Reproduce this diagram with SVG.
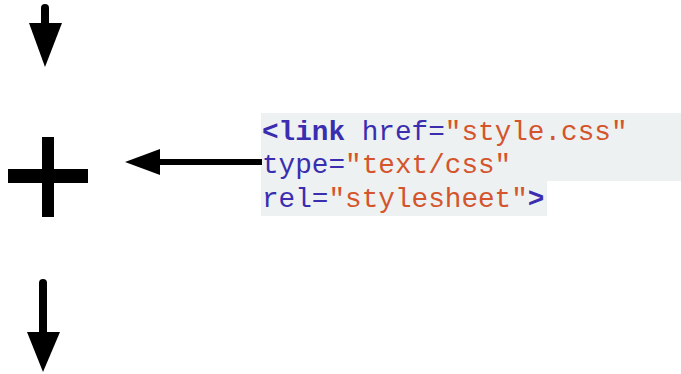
<svg xmlns="http://www.w3.org/2000/svg" width="681" height="374" viewBox="0 0 681 374">
<style>
.code{font-family:"Liberation Mono","Courier New",monospace;font-size:27.7px}
.tag{fill:#3a2db0}
.str{fill:#d4552c}
.blk{fill:#000}
</style>
<rect width="681" height="374" fill="#fff"/>
<g id="code">
<path d="M261 113H681V181H547V216H261Z" fill="#eef1f2"/>
<text class="code" x="262" y="139.5"><tspan class="tag" font-weight="bold">&lt;link</tspan><tspan class="tag"> href=</tspan><tspan class="str">"style.css"</tspan></text>
<text class="code" x="262" y="173"><tspan class="tag">type=</tspan><tspan class="str">"text/css"</tspan></text>
<text class="code" x="262" y="206.5"><tspan class="tag">rel=</tspan><tspan class="str">"stylesheet"</tspan><tspan class="tag" font-weight="bold">&gt;</tspan></text>
</g>
<g id="plus">
<rect class="blk" x="42" y="137" width="12" height="80"/>
<rect class="blk" x="8" y="169" width="80" height="14"/>
</g>
<g id="connectors">
<g id="arrow-top">
<line x1="45" y1="8" x2="45" y2="28" stroke="#000" stroke-width="8" stroke-linecap="round"/>
<polygon class="blk" points="29,23 62,23 45,67"/>
</g>
<g id="arrow-left">
<line x1="158" y1="162" x2="262" y2="162" stroke="#000" stroke-width="6"/>
<polygon class="blk" points="125,162 160,149 160,175"/>
</g>
<g id="arrow-bottom">
<line x1="43" y1="283" x2="43" y2="336" stroke="#000" stroke-width="8" stroke-linecap="round"/>
<polygon class="blk" points="27,332 60,332 43,372"/>
</g>
</g>
</svg>
